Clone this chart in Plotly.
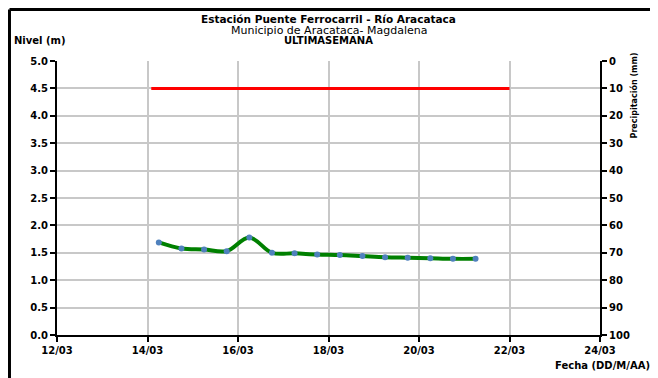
import pandas as pd
import plotly.graph_objects as go

# Nivel del rio (m), lecturas 06:00 y 18:00
fechas = pd.date_range("2014-03-14 06:00", periods=15, freq="12h")
nivel = [1.69, 1.58, 1.56, 1.53, 1.78, 1.50, 1.49, 1.47, 1.46, 1.44,
         1.42, 1.41, 1.40, 1.39, 1.39]

# Cota de alerta
alerta_x = ["2014-03-14 02:00", "2014-03-22 00:00"]
alerta_y = [4.5, 4.5]

# Precipitacion (mm) - sin registros en la semana
precip_x = []
precip_y = []

xticks = pd.date_range("2014-03-12", "2014-03-24", freq="2D")
xtick_text = [d.strftime("%d/%m") for d in xticks]

FONT = "DejaVu Sans, Liberation Sans, Arial, sans-serif"

fig = go.Figure()

fig.add_trace(go.Scatter(
    x=alerta_x, y=alerta_y, mode="lines",
    line=dict(color="#ff0000", width=3),
))
fig.add_trace(go.Scatter(
    x=fechas, y=nivel, mode="lines+markers",
    line=dict(color="#008000", width=4, shape="spline", smoothing=1),
    marker=dict(color="#4f81bd", size=6),
))
fig.add_trace(go.Scatter(
    x=precip_x, y=precip_y, yaxis="y2", mode="lines",
    line=dict(color="#4f81bd"),
))

axis_common = dict(
    showline=True, linecolor="black", linewidth=2,
    ticks="outside", ticklen=5, tickcolor="black", tickwidth=2,
    gridcolor="#c8c8c8", gridwidth=2,
    tickfont=dict(family=FONT, size=10, color="black", weight="bold"),
    zeroline=False,
)

# the page body has an 8px margin, so margins are shifted to compensate
fig.update_layout(
    width=658, height=378,
    margin=dict(l=49, r=66, t=53, b=51),
    paper_bgcolor="white", plot_bgcolor="white",
    showlegend=False,
    font=dict(family=FONT, color="black"),
    xaxis=dict(
        range=[xticks[0], xticks[-1]],
        tickvals=xticks, ticktext=xtick_text,
        **axis_common,
    ),
    yaxis=dict(range=[0, 5], dtick=0.5, tickformat=".1f", **axis_common),
    yaxis2=dict(
        overlaying="y", side="right", range=[100, 0], dtick=10,
        showgrid=False,
        **{k: v for k, v in axis_common.items() if k not in ("gridcolor", "gridwidth")},
    ),
)

# titulo
titulo = [
    ("<b>Estación Puente Ferrocarril - Río Aracataca</b>", 1.152, 10.5),
    ("Municipio de Aracataca- Magdalena", 1.113, 11),
    ("<b>ULTIMASEMANA</b>", 1.075, 10),
]
for txt, yy, sz in titulo:
    fig.add_annotation(
        text=txt, xref="paper", yref="paper", x=0.5, y=yy,
        xanchor="center", yanchor="middle", showarrow=False,
        font=dict(family=FONT, size=sz, color="black"),
    )

fig.add_annotation(
    text="<b>Nivel (m)</b>", xref="paper", yref="paper",
    x=-0.083, y=1.073, xanchor="left", yanchor="middle", showarrow=False,
    font=dict(family=FONT, size=10, color="black"),
)
fig.add_annotation(
    text="<b>Fecha (DD/M/AA)</b>", xref="paper", yref="paper",
    x=1.096, y=-0.111, xanchor="right", yanchor="middle", showarrow=False,
    font=dict(family=FONT, size=10, color="black"),
)
fig.add_annotation(
    text="<b>Precipitación (mm)</b>", xref="paper", yref="paper",
    x=1.063, y=0.875, xanchor="center", yanchor="middle", showarrow=False,
    textangle=-90,
    font=dict(family=FONT, size=8, color="black"),
)

# marco exterior: solo borde izquierdo y superior quedan a la vista
fig.add_shape(
    type="line", xref="paper", yref="paper",
    x0=-0.0875, y0=1.188, x1=1.2, y1=1.188,
    line=dict(color="black", width=3), layer="above",
)
fig.add_shape(
    type="line", xref="paper", yref="paper",
    x0=-0.0875, y0=1.188, x1=-0.0875, y1=-0.25,
    line=dict(color="black", width=3), layer="above",
)

fig.write_html("out.html")
